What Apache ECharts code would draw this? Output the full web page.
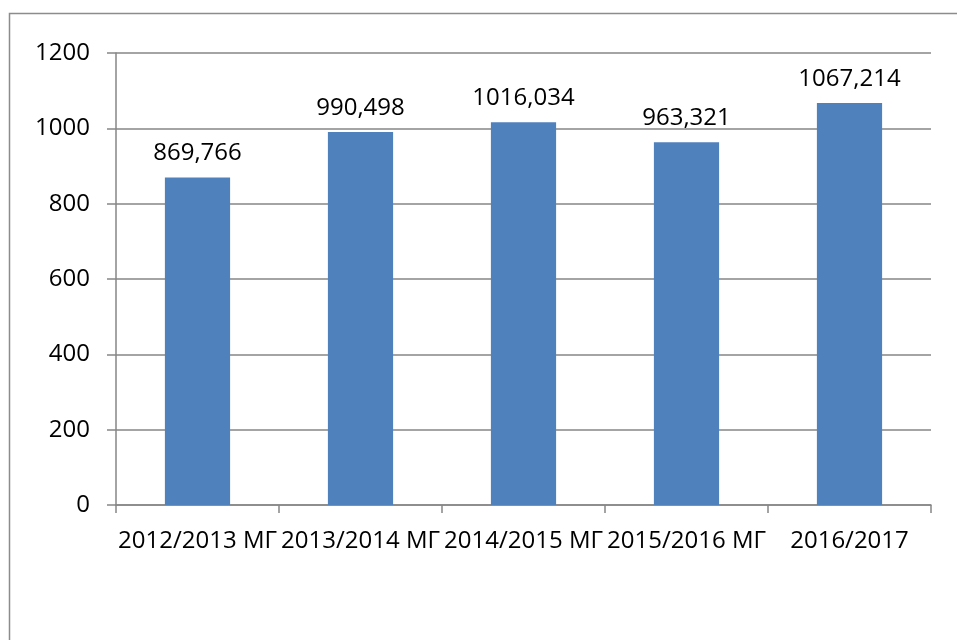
<!DOCTYPE html>
<html lang="ru">
<head>
    <meta charset="UTF-8">
    <title>Bar chart</title>
    <script src="https://cdn.jsdelivr.net/npm/echarts@6/dist/echarts.min.js"></script>
    <style>
        html, body { margin: 0; padding: 0; background: #fff; }
    </style>
</head>
<body>

<div id="main" style="width: 957px;height:640px;"></div>

<script>
    // data
    var categories = ['2012/2013 МГ', '2013/2014 МГ', '2014/2015 МГ', '2015/2016 МГ', '2016/2017'];
    var values = [869.766, 990.498, 1016.034, 963.321, 1067.214];
    var yTicks = [0, 200, 400, 600, 800, 1000, 1200];

    var mychart = echarts.init(document.getElementById('main'));

    var font = '"Open Sans", "Liberation Sans", sans-serif';

    var option = {
        animation: false,
        textStyle: { fontFamily: font },
        // outer frame (only the top and left edges are inside the picture)
        graphic: [{
            type: 'rect',
            shape: { x: 9.5, y: 13.5, width: 1200, height: 800 },
            style: { fill: 'none', stroke: '#8c8c8c', lineWidth: 1.5 },
            silent: true
        }],
        grid: {
            left: 116,
            right: 26,
            top: 53,
            bottom: 135
        },
        xAxis: {
            type: 'category',
            data: categories,
            axisLine: { lineStyle: { color: '#868686', width: 1.5 } },
            axisTick: { show: true, length: 8, lineStyle: { color: '#868686', width: 1.5 } },
            axisLabel: {
                interval: 0,
                margin: 24,
                color: '#000',
                fontSize: 24,
                fontFamily: font
            }
        },
        yAxis: {
            type: 'value',
            min: yTicks[0],
            max: yTicks[yTicks.length - 1],
            interval: 200,
            axisLine: { show: true, lineStyle: { color: '#868686', width: 1.5 } },
            axisTick: { show: true, length: 9, lineStyle: { color: '#868686', width: 1.5 } },
            splitLine: { lineStyle: { color: '#868686', width: 1.5 } },
            axisLabel: {
                margin: 26,
                color: '#000',
                fontSize: 24,
                fontFamily: font,
                formatter: function (v) { return String(v); }
            }
        },
        series: [{
            type: 'bar',
            data: values,
            barWidth: '40%',
            itemStyle: { color: '#4F81BD' },
            label: {
                show: true,
                position: 'top',
                distance: 12,
                color: '#000',
                fontSize: 24,
                fontFamily: font,
                formatter: function (p) {
                    return p.value.toFixed(3).replace('.', ',');
                }
            }
        }]
    };

    mychart.setOption(option);
</script>
</body>
</html>
